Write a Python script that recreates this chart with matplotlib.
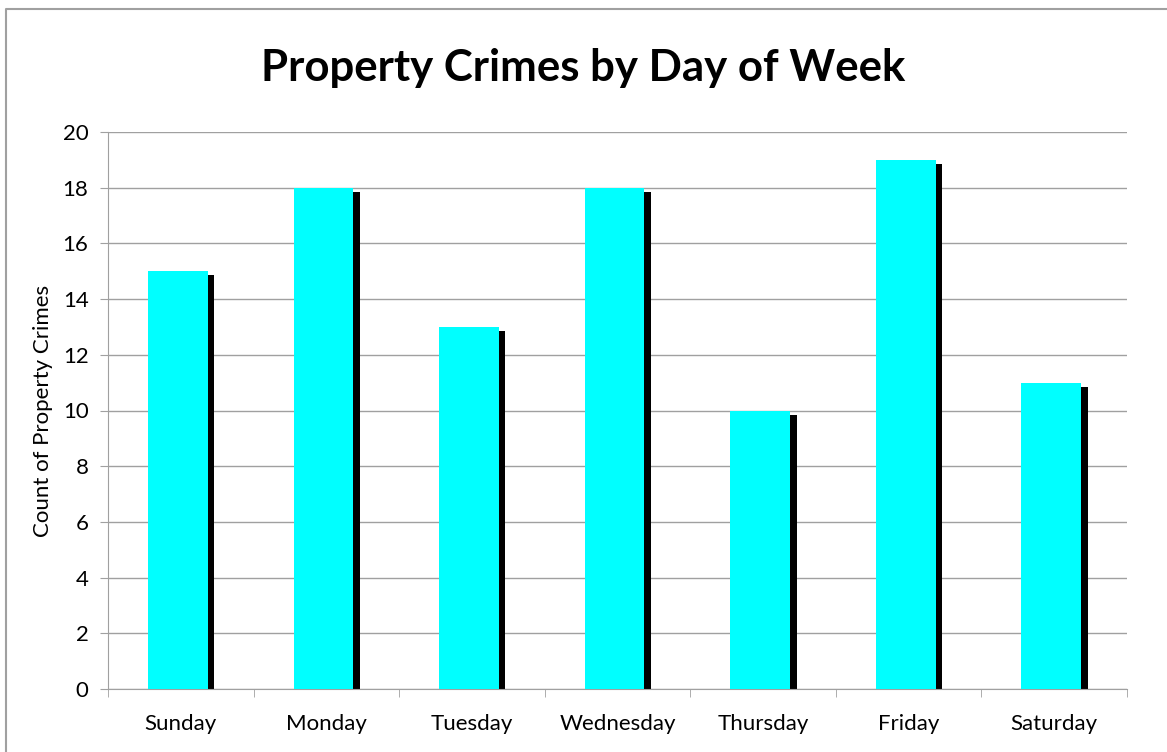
import matplotlib.pyplot as plt
from matplotlib.lines import Line2D
import numpy as np

days = ["Sunday", "Monday", "Tuesday", "Wednesday", "Thursday", "Friday", "Saturday"]
counts = [15, 18, 13, 18, 10, 19, 11]
y_ticks = list(range(0, 21, 2))

plt.rcParams["font.family"] = ["Lato", "DejaVu Sans"]

W, H = 1167, 752
fig = plt.figure(figsize=(W / 100, H / 100), dpi=100)
ax = fig.add_axes([108 / W, 1 - 689 / H, (1127 - 108) / W, (689 - 132) / H])

x = np.arange(len(days))
width = 0.41
# drop shadow: black copy shifted right and down, drawn behind the cyan bars
ax.bar(x + 0.025, np.array(counts) - 0.15, width=width, color="black", zorder=2)
ax.bar(x - 0.02, counts, width=width, color="#00ffff", zorder=3)

ax.set_xlim(-0.5, len(days) - 0.5)
ax.set_ylim(0, 20)
ax.set_yticks(y_ticks)
ax.set_yticklabels([str(v) for v in y_ticks], fontsize=16)
ax.set_xticks(x)
ax.set_xticklabels(days, fontsize=16)
ax.set_xticks(np.arange(-0.5, len(days)), minor=True)
ax.tick_params(axis="x", which="major", length=0, pad=18)
ax.tick_params(axis="x", which="minor", length=6, color="#a0a0a0")
ax.tick_params(axis="y", length=6, color="#a0a0a0", pad=8)
ax.grid(axis="y", color="#a0a0a0", lw=1, zorder=0)
for side in ("top", "right"):
    ax.spines[side].set_visible(False)
for side in ("left", "bottom"):
    ax.spines[side].set_color("#a0a0a0")
ax.set_ylabel("Count of Property Crimes", fontsize=16, labelpad=7)

fig.text(0.5, 1 - 68 / H, "Property Crimes by Day of Week", ha="center", va="center",
         fontsize=31.5, fontweight="bold")
# chart frame: only the top and left edges fall inside the picture
fig.lines.append(Line2D([6 / W, 6 / W, 1], [0, 1 - 9 / H, 1 - 9 / H], transform=fig.transFigure,
                        color="#a0a0a0", lw=1.5))

fig.savefig("out.png", dpi=100)
